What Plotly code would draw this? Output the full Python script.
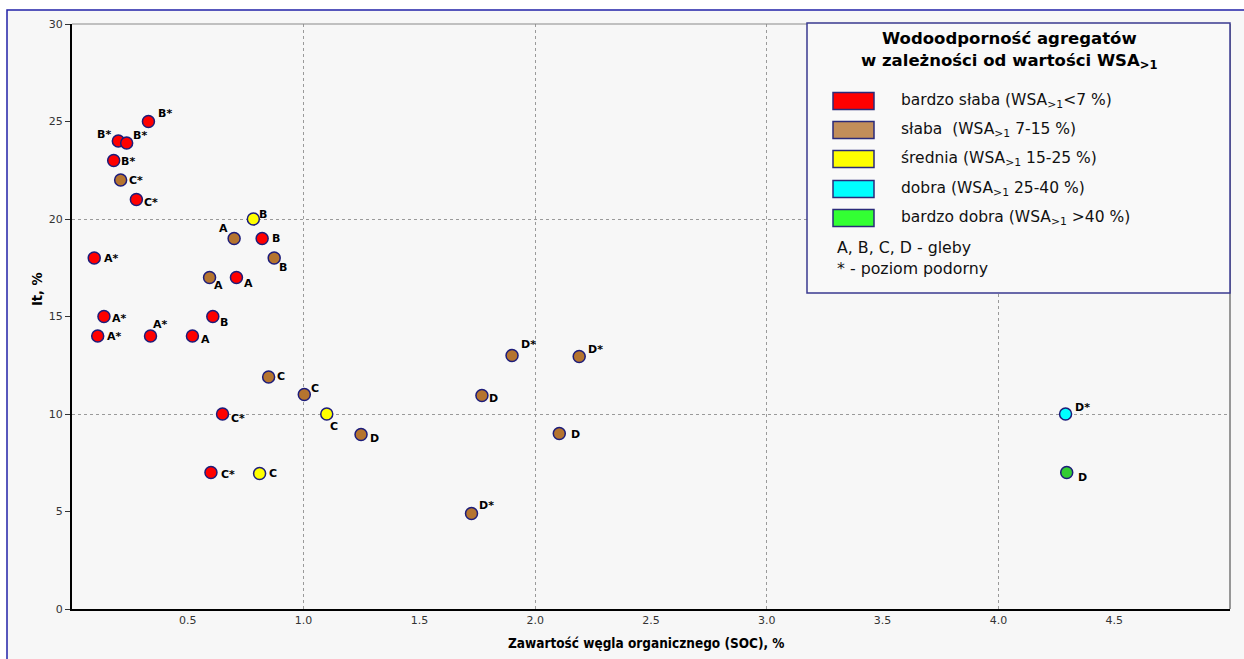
import plotly.graph_objects as go

# ---------------- data ----------------
red_x = [0.33, 0.20, 0.236, 0.18, 0.278, 0.096, 0.138, 0.111, 0.339, 0.52, 0.608, 0.71, 0.821, 0.65, 0.60]
red_y = [25.0, 24.0, 23.9, 23.0, 21.0, 18.0, 15.0, 14.0, 14.0, 14.0, 15.0, 17.0, 19.0, 10.0, 7.0]
red_lab = ["B*", "B*", "B*", "B*", "C*", "A*", "A*", "A*", "A*", "A", "B", "A", "B", "C*", "C*"]

brown_x = [0.21, 0.70, 0.594, 0.873, 0.849, 1.003, 1.248, 1.725, 1.77, 1.90, 2.104, 2.19]
brown_y = [22.0, 19.0, 17.0, 18.0, 11.9, 11.0, 8.95, 4.9, 10.95, 13.0, 9.0, 12.95]
brown_lab = ["C*", "A", "A", "B", "C", "C", "D", "D*", "D", "D*", "D", "D*"]

yellow_x = [0.783, 1.10, 0.81]
yellow_y = [20.0, 10.0, 6.95]
yellow_lab = ["B", "C", "C"]

cyan_x = [4.29]
cyan_y = [10.0]
cyan_lab = ["D*"]

green_x = [4.295]
green_y = [7.0]
green_lab = ["D"]

x_ticks = [0.5, 1.0, 1.5, 2.0, 2.5, 3.0, 3.5, 4.0, 4.5]
x_tick_text = ["0.5", "1.0", "1.5", "2.0", "2.5", "3.0", "3.5", "4.0", "4.5"]
y_ticks = [0, 5, 10, 15, 20, 25, 30]

legend_labels = [
    "bardzo słaba (WSA<sub>&gt;1</sub>&lt;7 %)",
    "słaba  (WSA<sub>&gt;1</sub> 7-15 %)",
    "średnia (WSA<sub>&gt;1</sub> 15-25 %)",
    "dobra (WSA<sub>&gt;1</sub> 25-40 %)",
    "bardzo dobra (WSA<sub>&gt;1</sub> &gt;40 %)",
]

# ---------------- styles ----------------
C_RED = "#ff0000"
C_BROWN = "#b5742f"
C_YELLOW = "#ffff00"
C_CYAN = "#00ffff"
C_GREEN = "#33cc33"
swatch_colors = ["#ff0000", "#c28e5a", "#ffff00", "#00ffff", "#33ff33"]
EDGE = "#1c1c7a"

# label offsets in screen pixels (dx right, dy down)
red_off = [(17, -8), (-14, -7), (13, -7), (14, 1), (15, 3), (17, 0), (16, 2), (17, 0), (10, -12),
           (13, 3), (11, 6), (12, 6), (14, 0), (15, 4), (17, 2)]
brown_off = [(15, 0), (-11, -10), (9, 8), (9, 9), (12, 0), (11, -6), (13, 4), (15, -8), (12, 3),
             (16, -11), (16, 1), (16, -7)]
yellow_off = [(10, -5), (7, 12), (13, 0)]
cyan_off = [(17, -7)]
green_off = [(16, 5)]

W, H = 1244, 659
ML, MR, MT, MB = 72, 14, 24, 50
PW, PH = W - ML - MR, H - MT - MB


def px(x):
    return (x - ML) / PW


def py(y):
    return (H - MB - y) / PH


fig = go.Figure()
annotations = []

label_font = dict(family="DejaVu Sans", size=11, color="black")


def add(xs, ys, labs, offs, col):
    fig.add_trace(go.Scatter(
        x=xs, y=ys, mode="markers",
        marker=dict(size=12, color=col, line=dict(color=EDGE, width=1.5)),
        showlegend=False, cliponaxis=False, hoverinfo="x+y",
    ))
    for xv, yv, t, (dx, dy) in zip(xs, ys, labs, offs):
        annotations.append(dict(x=xv, y=yv, xref="x", yref="y", text="<b>%s</b>" % t,
                                showarrow=False, xanchor="center", yanchor="middle",
                                xshift=dx, yshift=-dy, font=label_font))


add(red_x, red_y, red_lab, red_off, C_RED)
add(brown_x, brown_y, brown_lab, brown_off, C_BROWN)
add(yellow_x, yellow_y, yellow_lab, yellow_off, C_YELLOW)
add(cyan_x, cyan_y, cyan_lab, cyan_off, C_CYAN)
add(green_x, green_y, green_lab, green_off, C_GREEN)

shapes = []
# outer frame (background + blue border on top/left)
shapes.append(dict(type="rect", xref="paper", yref="paper", x0=px(7), y0=py(H + 40), x1=px(W + 40), y1=py(10),
                   fillcolor="#f7f7f7", line=dict(color="#2222a8", width=1.5), layer="below"))
# top and right plot border
shapes.append(dict(type="line", xref="paper", yref="paper", x0=0, x1=1, y0=1, y1=1,
                   line=dict(color="#8a8a8a", width=1.2)))
shapes.append(dict(type="line", xref="paper", yref="paper", x0=1, x1=1, y0=0, y1=1,
                   line=dict(color="#777777", width=1.5)))

# legend box
shapes.append(dict(type="rect", xref="paper", yref="paper", x0=px(807), x1=px(1230), y0=py(293), y1=py(23),
                   fillcolor="#f9f9f9", line=dict(color="#3a3a90", width=1.5)))

title_font = dict(family="DejaVu Sans", size=16.5, color="black")
annotations.append(dict(xref="paper", yref="paper", x=px(1009), y=py(38), text="<b>Wodoodporność agregatów</b>",
                        showarrow=False, xanchor="center", yanchor="middle", font=title_font))
annotations.append(dict(xref="paper", yref="paper", x=px(1009), y=py(62),
                        text="<b>w zależności od wartości WSA<sub>&gt;1</sub></b>",
                        showarrow=False, xanchor="center", yanchor="middle", font=title_font))

item_font = dict(family="DejaVu Sans", size=15.5, color="#111111")
sw_y = [101, 130, 159, 189, 218]
for yc, col, lab in zip(sw_y, swatch_colors, legend_labels):
    shapes.append(dict(type="rect", xref="paper", yref="paper", x0=px(833), x1=px(874),
                       y0=py(yc + 8.5), y1=py(yc - 8.5), fillcolor=col,
                       line=dict(color="#2a2a7a", width=1.5)))
    annotations.append(dict(xref="paper", yref="paper", x=px(899), y=py(yc), text=lab,
                            showarrow=False, xanchor="left", yanchor="middle", font=item_font))

foot_font = dict(family="DejaVu Sans", size=15.8, color="#111111")
annotations.append(dict(xref="paper", yref="paper", x=px(835), y=py(248), text="A, B, C, D - gleby",
                        showarrow=False, xanchor="left", yanchor="middle", font=foot_font))
annotations.append(dict(xref="paper", yref="paper", x=px(835), y=py(268), text="* - poziom podorny",
                        showarrow=False, xanchor="left", yanchor="middle", font=foot_font))

# axis titles
axt_font = dict(family="DejaVu Sans Condensed", size=13.5, color="black")
annotations.append(dict(xref="paper", yref="paper", x=px(646), y=py(643),
                        text="<b>Zawartość węgla organicznego (SOC), %</b>",
                        showarrow=False, xanchor="center", yanchor="middle", font=axt_font))
annotations.append(dict(xref="paper", yref="paper", x=px(37), y=py(289), text="<b>It, %</b>",
                        showarrow=False, xanchor="center", yanchor="middle", textangle=-90,
                        font=dict(family="DejaVu Sans Condensed", size=14.5, color="black")))

tick_font = dict(family="DejaVu Sans", size=11, color="#333333")

fig.update_layout(
    width=W, height=H,
    margin=dict(l=ML, r=MR, t=MT, b=MB, autoexpand=False),
    paper_bgcolor="white",
    plot_bgcolor="rgba(0,0,0,0)",
    shapes=shapes,
    annotations=annotations,
    xaxis=dict(
        range=[0, 5], tickvals=x_ticks, ticktext=x_tick_text, showgrid=False,
        ticks="", tickfont=tick_font, zeroline=False, automargin=False,
        showline=True, linecolor="black", linewidth=2,
        minor=dict(tickvals=[1, 2, 3, 4], showgrid=True, gridcolor="#9a9a9a", griddash="dot", gridwidth=1, ticks=""),
    ),
    yaxis=dict(
        range=[0, 30], tickvals=y_ticks, showgrid=False, ticks="outside", ticklen=5,
        tickcolor="#333333", tickfont=tick_font, zeroline=False, automargin=False,
        showline=True, linecolor="black", linewidth=2,
        minor=dict(tickvals=[10, 20], showgrid=True, gridcolor="#9a9a9a", griddash="dot", gridwidth=1, ticks=""),
    ),
)

fig.write_html("out.html", config={"displayModeBar": False},
               post_script="document.body.style.margin='0px';")
